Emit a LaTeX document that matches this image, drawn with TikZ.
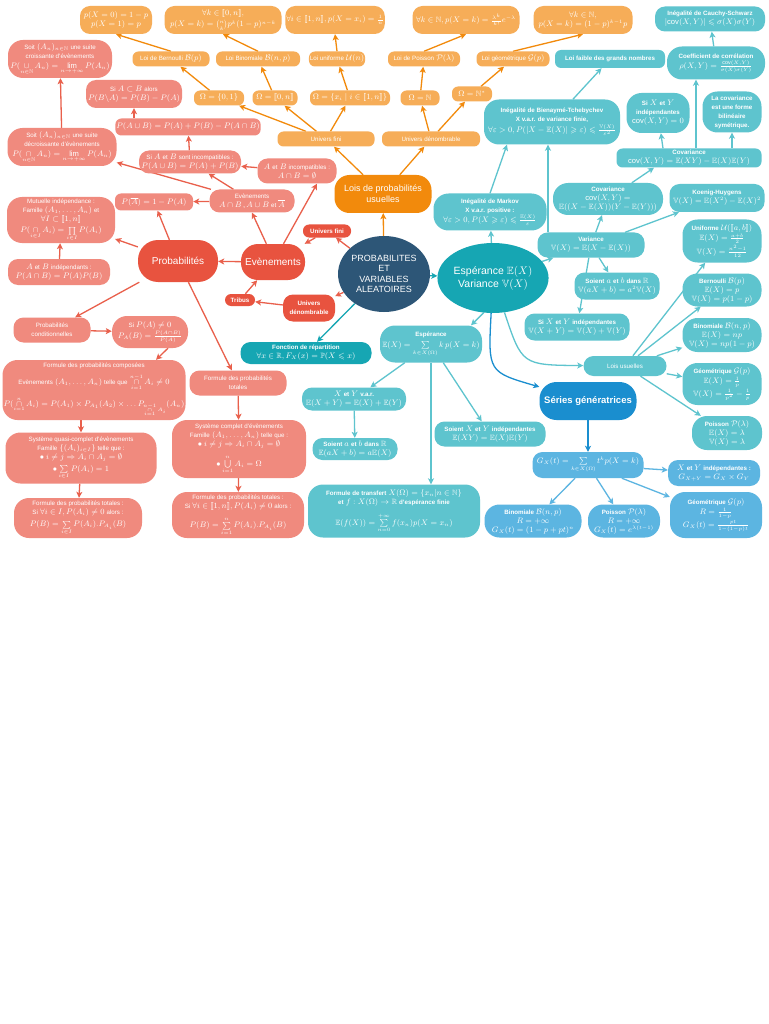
\documentclass[tikz,border=0pt]{standalone}
\usepackage{amsmath,amssymb}
\usepackage{fontspec}
\setmainfont{Liberation Sans}
\usepackage{xcolor}
\usepackage{tikz}
\usetikzlibrary{arrows.meta,shapes.geometric,backgrounds}

\definecolor{salmon}{HTML}{F08A7E}
\definecolor{redm}{HTML}{E8533F}
\definecolor{redarr}{HTML}{E9604C}
\definecolor{orl}{HTML}{F6AD58}
\definecolor{orm}{HTML}{F28A0C}
\definecolor{navy}{HTML}{2D5677}
\definecolor{tealm}{HTML}{16A6B3}
\definecolor{teall}{HTML}{5EC4CE}
\definecolor{bluem}{HTML}{1A8ECF}
\definecolor{bluel}{HTML}{5CB5E1}

\newcommand{\stxt}[1]{{\fontsize{6.2}{7.4}\selectfont #1}}
\newcommand{\btxt}[1]{{\fontsize{6.2}{7.4}\selectfont\bfseries #1}}
\newcommand{\intv}[2]{[\![#1,#2]\!]}

\begin{document}
\begin{tikzpicture}[x=1pt,y=-1pt,
  box/.style={text=white,align=center,inner sep=1pt,rounded corners=6pt,font=\fontsize{7.6}{9}\selectfont},
  sbox/.style={box,fill=salmon},
  obox/.style={box,fill=orl},
  tbox/.style={box,fill=teall},
  bbox/.style={box,fill=bluel},
  mid/.style={rounded corners=10pt},
  tall/.style={rounded corners=15pt},
  wh/.style 2 args={minimum width=#1pt,minimum height=#2pt},
  arr/.style={line width=1.3pt,-{Stealth[length=6pt,width=6pt,inset=1.5pt]}},
  rarr/.style={arr,draw=redarr},
  oarr/.style={arr,draw=orm},
  tarr/.style={arr,draw=teall},
  barr/.style={arr,draw=bluel}]
\useasboundingbox (0,0) rectangle (768,1024);

% centre
\node[ellipse,fill=navy,text=white,align=center,inner sep=0pt,minimum width=88pt,minimum height=76pt,font=\fontsize{9}{10.5}\selectfont] (central) at (384,274) {PROBABILITES\\ET\\VARIABLES\\ALEATOIRES};

% lois usuelles
\node[box,fill=orm,rounded corners=15pt,wh={97}{38},font=\fontsize{9}{11}\selectfont] (lois) at (383,194) {Lois de probabilités\\usuelles};
\node[obox,wh={97}{15}] (ufini) at (326,139) {\stxt{Univers fini}};
\node[obox,wh={98}{15}] (uden) at (431,139) {\stxt{Univers dénombrable}};
\node[obox,wh={50}{15}] (om1) at (219,98) {$\Omega=\{0,1\}$};
\node[obox,wh={45}{15}] (om2) at (275,98) {$\Omega=\intv0n$};
\node[obox,wh={80}{15}] (om3) at (350,98) {$\Omega=\{x_i\mid i\in\intv1n\}$};
\node[obox,wh={39}{15}] (om4) at (420,98) {$\Omega=\mathbb N$};
\node[obox,wh={40}{15}] (om5) at (472,94) {$\Omega=\mathbb N^*$};
\node[obox,wh={77}{15}] (bern) at (171,59) {\stxt{Loi de Bernoulli} $\mathcal B(p)$};
\node[obox,wh={84}{15}] (binom) at (258,59) {\stxt{Loi Binomiale} $\mathcal B(n,p)$};
\node[obox,wh={56}{15}] (unif) at (337,59) {\stxt{Loi uniforme} $\mathcal U(n)$};
\node[obox,wh={72}{15}] (pois) at (424,59) {\stxt{Loi de Poisson} $\mathcal P(\lambda)$};
\node[obox,wh={73}{15}] (geom) at (513,59) {\stxt{Loi géométrique} $\mathcal G(p)$};
\node[obox,mid,wh={72}{28}] (o1) at (116,20) {$p(X=0)=1-p$\\$p(X=1)=p$};
\node[obox,mid,wh={117}{28}] (o2) at (223,20) {$\forall k\in\intv0n,$\\[2pt]$p(X=k)=\tbinom nk p^k(1-p)^{n-k}$};
\node[obox,mid,wh={85}{28}] (o3) at (335,20) {$\forall i\in\intv1n, p(X=x_i)=\frac1n$};
\node[obox,mid,wh={107}{28}] (o4) at (466,20) {$\forall k\in\mathbb N, p(X=k)=\frac{\lambda^k}{k!}e^{-\lambda}$};
\node[obox,mid,wh={99}{28}] (o5) at (583,20) {$\forall k\in\mathbb N,$\\$p(X=k)=(1-p)^{k-1}p$};

% probabilites
\node[box,fill=redm,rounded corners=20pt,wh={80}{42},font=\fontsize{10}{12}\selectfont] (proba) at (178,261) {Probabilités};
\node[box,fill=redm,rounded corners=17pt,wh={64}{36},font=\fontsize{10}{12}\selectfont] (even) at (273,262) {Evènements};
\node[box,fill=redm,wh={48}{13}] (ufr) at (327,231) {\btxt{Univers fini}};
\node[box,fill=redm,wh={30}{12}] (tribus) at (240,300) {\btxt{Tribus}};
\node[box,fill=redm,mid,wh={52}{27}] (udr) at (309,308) {\btxt{Univers}\\\btxt{dénombrable}};
\node[sbox,tall,wh={104}{38}] (croiss) at (60,59) {\stxt{Soit} $(A_n)_{n\in\mathbb N}$ \stxt{une suite}\\\stxt{croissante d'évènements}\\[1pt]$P(\mathop{\cup}\limits_{n\in\mathbb N}A_n)=\lim\limits_{n\to+\infty}P(A_n)$};
\node[sbox,mid,wh={96}{28}] (incl) at (134,94) {\stxt{Si} $A\subset B$ \stxt{alors}\\$P(B\backslash A)=P(B)-P(A)$};
\node[sbox,wh={145}{17}] (union) at (188,127) {$P(A\cup B)=P(A)+P(B)-P(A\cap B)$};
\node[sbox,tall,wh={109}{38}] (decr) at (62,147) {\stxt{Soit} $(A_n)_{n\in\mathbb N}$ \stxt{une suite}\\\stxt{décroissante d'évènements}\\[1pt]$P(\mathop{\cap}\limits_{n\in\mathbb N}A_n)=\lim\limits_{n\to+\infty}P(A_n)$};
\node[sbox,mid,wh={102}{23}] (siinc) at (190,162) {\stxt{Si} $A$ \stxt{et} $B$ \stxt{sont incompatibles :}\\$P(A\cup B)=P(A)+P(B)$};
\node[sbox,mid,wh={79}{25}] (abinc) at (297,171) {$A$ \stxt{et} $B$ \stxt{incompatibles :}\\$A\cap B=\emptyset$};
\node[sbox,mid,wh={85}{23}] (evbox) at (252,201) {\stxt{Evènements}\\$A\cap B$\,,\,$A\cup B$ \stxt{et} $\overline{A}$};
\node[sbox,wh={78}{17}] (pbar) at (154,202) {$P(\overline{A})=1-P(A)$};
\node[sbox,tall,wh={108}{46}] (mutu) at (61,220) {\stxt{Mutuelle indépendance :}\\\stxt{Famille} $(A_1,\ldots,A_n)$ \stxt{et}\\$\forall I\subset\intv1n$\\[2pt]$P(\mathop{\cap}\limits_{i\in I}A_i)=\prod\limits_{i\in I}P(A_i)$};
\node[sbox,mid,wh={102}{26}] (abind) at (59,272) {$A$ \stxt{et} $B$ \stxt{indépendants :}\\$P(A\cap B)=P(A)P(B)$};
\node[sbox,mid,wh={77}{25}] (pcond) at (52,330) {\stxt{Probabilités}\\\stxt{conditionnelles}};
\node[sbox,tall,wh={76}{32}] (pa) at (150,332) {\stxt{Si} $P(A)\neq0$\\[1pt]$P_A(B)=\frac{P(A\cap B)}{P(A)}$};
\node[sbox,tall,wh={183}{60}] (compo) at (94,390) {\stxt{Formule des probabilités composées}\\[4pt]\stxt{Evènements} $(A_1,\ldots,A_n)$ \stxt{telle que} $\mathop{\cap}\limits_{i=1}^{n-1}A_i\neq0$\\[6pt]$P(\mathop{\cap}\limits_{i=1}^{n}A_i)=P(A_1)\times P_{A_1}(A_2)\times\ldots P_{\mathop{\cap}\limits_{i=1}^{n-1}A_i}(A_n)$};
\node[sbox,tall,wh={151}{51}] (quasi) at (81,458) {\stxt{Système quasi-complet d'évènements}\\\stxt{Famille} $\{(A_i)_{i\in I}\}$ \stxt{telle que :}\\$\bullet\ i\neq j\Rightarrow A_i\cap A_j=\emptyset$\\[3pt]$\bullet\sum\limits_{i\in I}P(A_i)=1$};
\node[sbox,tall,wh={128}{40}] (totL) at (78,518) {\stxt{Formule des probabilités totales :}\\\stxt{Si} $\forall i\in I, P(A_i)\neq0$ \stxt{alors :}\\[3pt]$P(B)=\sum\limits_{i\in I}P(A_i).P_{A_i}(B)$};
\node[sbox,mid,wh={97}{25}] (totM) at (238,383) {\stxt{Formule des probabilités}\\\stxt{totales}};
\node[sbox,tall,wh={134}{58}] (syscomp) at (239,449) {\stxt{Système complet d'évènements}\\\stxt{Famille} $(A_1,\ldots,A_n)$ \stxt{telle que :}\\$\bullet\ i\neq j\Rightarrow A_i\cap A_j=\emptyset$\\[6pt]$\bullet\bigcup\limits_{i=1}^{n}A_i=\Omega$};
\node[sbox,tall,wh={132}{46}] (totR) at (238,515) {\stxt{Formule des probabilités totales :}\\\stxt{Si} $\forall i\in\intv1n, P(A_i)\neq0$ \stxt{alors :}\\[6pt]$P(B)=\sum\limits_{i=1}^{n}P(A_i).P_{A_i}(B)$};

% esperance et variance
\node[box,fill=tealm,mid,wh={131}{22}] (fdr) at (306,353) {\btxt{Fonction de répartition}\\$\forall x\in\mathbb R, F_X(x)=\mathbb P(X\leqslant x)$};
\node[ellipse,fill=tealm,text=white,align=center,inner sep=0pt,minimum width=80pt,minimum height=70pt,font=\fontsize{10.5}{13}\selectfont] (espvar) at (493,278) {Espérance $\mathbb E(X)$\\Variance $\mathbb V(X)$};
\node[tbox,tall,wh={113}{37}] (markov) at (490,212) {\btxt{Inégalité de Markov}\\\btxt{X v.a.r. positive :}\\[1pt]$\forall\varepsilon>0, P(X\geqslant\varepsilon)\leqslant\frac{\mathbb E(X)}{\varepsilon}$};
\node[tbox,tall,wh={136}{45}] (bien) at (552,122) {\btxt{Inégalité de Bienaymé-Tchebychev}\\\btxt{X v.a.r. de variance finie,}\\[2pt]$\forall\varepsilon>0, P(|X-\mathbb E(X)|\geqslant\varepsilon)\leqslant\frac{\mathbb V(X)}{\varepsilon^2}$};
\node[tbox,wh={110}{18}] (lfgn) at (610,59) {\btxt{Loi faible des grands nombres}};
\node[tbox,mid,wh={107}{25}] (var) at (591,245) {\btxt{Variance}\\$\mathbb V(X)=\mathbb E(X-\mathbb E(X))$};
\node[tbox,tall,wh={110}{32}] (cov) at (608,199) {\btxt{Covariance}\\$\mathrm{cov}(X,Y)=$\\$\mathbb E((X-\mathbb E(X))(Y-\mathbb E(Y)))$};
\node[tbox,mid,wh={95}{28}] (koenig) at (717,198) {\btxt{Koenig-Huygens}\\$\mathbb V(X)=\mathbb E(X^2)-\mathbb E(X)^2$};
\node[tbox,mid,wh={85}{27}] (vab) at (617,286) {\btxt{Soient} $a$ \btxt{et} $b$ \btxt{dans} $\mathbb R$\\$\mathbb V(aX+b)=a^2\mathbb V(X)$};
\node[tbox,mid,wh={105}{27}] (vxy) at (577,327) {\btxt{Si} $X$ \btxt{et} $Y$ \btxt{indépendantes}\\$\mathbb V(X+Y)=\mathbb V(X)+\mathbb V(Y)$};
\node[tbox,mid,wh={83}{20}] (lu) at (625,366) {\stxt{Lois usuelles}};
\node[tbox,wh={145}{19}] (cov2) at (689,158) {\btxt{Covariance}\\$\mathrm{cov}(X,Y)=\mathbb E(XY)-\mathbb E(X)\mathbb E(Y)$};
\node[tbox,tall,wh={63}{40}] (covind) at (658,113) {\btxt{Si} $X$ \btxt{et} $Y$\\\btxt{indépendantes}\\$\mathrm{cov}(X,Y)=0$};
\node[tbox,tall,wh={59}{41}] (bil) at (732,112) {\btxt{La covariance}\\\btxt{est une forme}\\\btxt{bilinéaire}\\\btxt{symétrique.}};
\node[tbox,tall,wh={98}{33}] (corr) at (716,63) {\btxt{Coefficient de corrélation}\\[1pt]$\rho(X,Y)=\frac{\mathrm{cov}(X,Y)}{\sigma(X)\sigma(Y)}$};
\node[tbox,mid,wh={110}{25}] (cs) at (710,19) {\btxt{Inégalité de Cauchy-Schwarz}\\$|\mathrm{cov}(X,Y)|\leqslant\sigma(X)\sigma(Y)$};
\node[tbox,tall,wh={79}{43}] (uni) at (722,241) {\btxt{Uniforme} $\mathcal U(\intv ab)$\\[1pt]$\mathbb E(X)=\frac{a+b}{2}$\\[1pt]$\mathbb V(X)=\frac{n^2-1}{12}$};
\node[tbox,tall,wh={79}{33}] (berv) at (722,290) {\btxt{Bernoulli} $\mathcal B(p)$\\$\mathbb E(X)=p$\\$\mathbb V(X)=p(1-p)$};
\node[tbox,tall,wh={79}{34}] (binv) at (722,335) {\btxt{Binomiale} $\mathcal B(n,p)$\\$\mathbb E(X)=np$\\$\mathbb V(X)=np(1-p)$};
\node[tbox,tall,wh={79}{42}] (geov) at (722,384) {\btxt{Géométrique} $\mathcal G(p)$\\[1pt]$\mathbb E(X)=\frac1p$\\[1pt]$\mathbb V(X)=\frac1{p^2}-\frac1p$};
\node[tbox,tall,wh={70}{34}] (poiv) at (727,433) {\btxt{Poisson} $\mathcal P(\lambda)$\\$\mathbb E(X)=\lambda$\\$\mathbb V(X)=\lambda$};
\node[tbox,tall,wh={102}{37}] (espb) at (431,344) {\btxt{Espérance}\\[2pt]$\mathbb E(X)=\sum\limits_{k\in X(\Omega)}k\,p(X=k)$};
\node[tbox,mid,wh={104}{23}] (exy) at (354,399) {$X$ \btxt{et} $Y$ \btxt{v.a.r.}\\$\mathbb E(X+Y)=\mathbb E(X)+\mathbb E(Y)$};
\node[tbox,mid,wh={85}{22}] (eab) at (355,449) {\btxt{Soient} $a$ \btxt{et} $b$ \btxt{dans} $\mathbb R$\\$\mathbb E(aX+b)=a\mathbb E(X)$};
\node[tbox,mid,wh={111}{25}] (exyind) at (490,434) {\btxt{Soient} $X$ \btxt{et} $Y$ \btxt{indépendantes}\\$\mathbb E(XY)=\mathbb E(X)\mathbb E(Y)$};
\node[tbox,tall,wh={172}{53}] (transf) at (394,511) {\btxt{Formule de transfert} $X(\Omega)=\{x_n|n\in\mathbb N\}$\\\btxt{et} $f:X(\Omega)\to\mathbb R$ \btxt{d'espérance finie}\\[6pt]$\mathbb E(f(X))=\sum\limits_{n=0}^{+\infty}f(x_n)p(X=x_n)$};

% series generatrices
\node[box,fill=bluem,rounded corners=17pt,wh={97}{38},font=\fontsize{9.5}{11}\selectfont\bfseries] (sg) at (588,401) {Séries génératrices};
\node[bbox,mid,wh={111}{26}] (gx) at (588,465) {$G_X(t)=\sum\limits_{k\in X(\Omega)}t^kp(X=k)$};
\node[bbox,mid,wh={92}{26}] (gind) at (714,473) {$X$ \btxt{et} $Y$ \btxt{indépendantes :}\\$G_{X+Y}=G_X\times G_Y$};
\node[bbox,tall,wh={92}{46}] (ggeo) at (716,515) {\btxt{Géométrique} $\mathcal G(p)$\\[1pt]$R=\frac1{1-p}$\\[1pt]$G_X(t)=\frac{pt}{1-(1-p)t}$};
\node[bbox,tall,wh={72}{33}] (gpoi) at (624,521) {\btxt{Poisson} $\mathcal P(\lambda)$\\$R=+\infty$\\$G_X(t)=e^{\lambda(t-1)}$};
\node[bbox,tall,wh={97}{33}] (gbin) at (533,521) {\btxt{Binomiale} $\mathcal B(n,p)$\\$R=+\infty$\\$G_X(t)=(1-p+pt)^n$};

\begin{scope}[on background layer]
\fill[white] (0,0) rectangle (768,1024);
% orange
\draw[oarr] (central) -- (lois);
\draw[oarr] (lois) -- (ufini);
\draw[oarr] (lois) -- (uden);
\draw[oarr] (ufini) -- (om1);
\draw[oarr] (ufini) -- (om2);
\draw[oarr] (ufini) -- (om3);
\draw[oarr] (uden) -- (om4);
\draw[oarr] (uden) -- (om5);
\draw[oarr] (om1) -- (bern);
\draw[oarr] (om2) -- (binom);
\draw[oarr] (om3) -- (unif);
\draw[oarr] (om4) -- (pois);
\draw[oarr] (om5) -- (geom);
\draw[oarr] (bern.north) -- (o1.south);
\draw[oarr] (binom.north) -- (o2.south);
\draw[oarr] (unif.north) -- (o3.south);
\draw[oarr] (pois.north) -- (o4.south);
\draw[oarr] (geom.north) -- (o5.south);
% rouge
\draw[rarr] (central) -- (ufr);
\draw[rarr] (central) -- (udr);
\draw[rarr] (ufr) -- (even);
\draw[rarr] (udr) -- (tribus);
\draw[rarr] (tribus) -- (even);
\draw[rarr] (even) -- (proba);
\draw[rarr] (even.110) -- (evbox.south);
\draw[rarr] (even.60) -- ([xshift=20pt]abinc.south);
\draw[rarr] (abinc) -- (siinc);
\draw[rarr] (evbox) -- (decr);
\draw[rarr] (evbox) -- (siinc);
\draw[rarr] (evbox) -- (pbar);
\draw[rarr] (siinc) -- (union);
\draw[rarr] (incl.south |- union.north) -- (incl.south);
\draw[rarr] (decr) -- (croiss);
\draw[rarr] (proba) -- (pbar);
\draw[rarr] (proba) -- (mutu);
\draw[rarr] (abind) -- (mutu);
\draw[rarr] (proba) -- (pcond);
\draw[rarr] (pcond) -- (pa);
\draw[rarr] ([xshift=18pt]pa.south) -- ([xshift=62pt]compo.north);
\draw[rarr] (quasi.north |- compo.south) -- (quasi.north);
\draw[rarr] (quasi) -- (totL);
\draw[rarr] (proba) -- (totM);
\draw[rarr] (totM) -- (syscomp);
\draw[rarr] (syscomp) -- (totR);
% turquoise
\draw[arr,draw=tealm] (central) -- (espvar);
\draw[arr,draw=tealm] (central) -- (fdr);
\draw[tarr] (espvar) -- (markov);
\draw[tarr] (espvar) -- (var);
\draw[tarr] (espvar.-105) -- ([xshift=40pt]espb.north);
\draw[tarr] (espvar) .. controls (522,365) .. (lu);
\draw[tarr] (markov.north) -- ([xshift=-45pt]bien.south);
\draw[tarr] ([xshift=-43pt]var.north) -- ([xshift=-4pt]bien.south);
\draw[tarr] (bien) -- (lfgn);
\draw[tarr] (var) -- (cov);
\draw[tarr] (var) -- (koenig);
\draw[tarr] (var) -- (vab);
\draw[tarr] (var) -- (vxy);
\draw[tarr] (cov) -- ([xshift=-35pt]cov2.south);
\draw[tarr] ([xshift=-26pt]cov2.north) -- (covind);
\draw[tarr] ([xshift=43pt]cov2.north) -- (bil);
\draw[tarr] ([xshift=7pt]cov2.north) -- ([xshift=-20pt]corr.south);
\draw[tarr] (corr) -- (cs);
\draw[tarr] (lu) -- (uni);
\draw[tarr] (lu) -- (berv);
\draw[tarr] (lu) -- (binv);
\draw[tarr] (lu) -- (geov);
\draw[tarr] (lu) -- (poiv);
\draw[tarr] (espb) -- (exy);
\draw[tarr] (espb) -- (exyind);
\draw[tarr] (espb) -- (transf.north -| espb);
\draw[tarr] (exy) -- (eab);
% bleu
\draw[arr,draw=bluem] (espvar) .. controls (488,372) .. (sg);
\draw[arr,draw=bluem] (sg) -- (gx);
\draw[barr] (gx) -- (gind);
\draw[barr] (gx) -- (ggeo);
\draw[barr] (gx) -- (gpoi);
\draw[barr] (gx) -- (gbin);
\end{scope}
\end{tikzpicture}
\end{document}
